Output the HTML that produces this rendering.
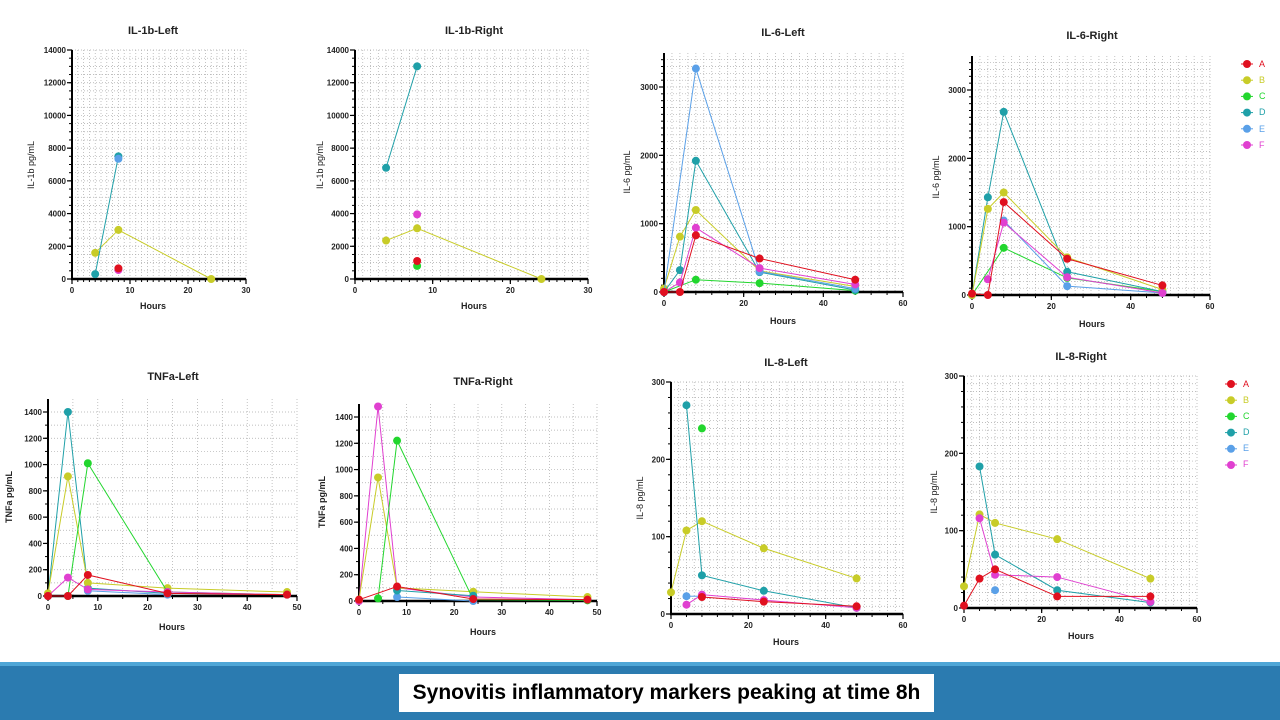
<!DOCTYPE html>
<html><head><meta charset="utf-8"><style>
body{margin:0;width:1280px;height:720px;background:#fff;overflow:hidden;position:relative;font-family:"Liberation Sans",sans-serif}
svg{position:absolute;left:0;top:0}
.t{font:bold 11px "Liberation Sans",sans-serif;fill:#222;text-anchor:middle}
.tk{font:bold 8px "Liberation Sans",sans-serif;fill:#222}
.lg{font:9px "Liberation Sans",sans-serif}
#band{position:absolute;left:0;top:662px;width:1280px;height:58px;background:#2b7bb0;border-top:4px solid #4fa6d6;box-sizing:border-box}
#cap{position:absolute;left:399px;top:674px;width:535px;height:38px;background:#fff;font:bold 21px "Liberation Sans",sans-serif;color:#000;line-height:38px;text-align:center}
</style></head><body>
<svg id="s" width="1280" height="662" xmlns="http://www.w3.org/2000/svg">
<text class="t" x="153" y="34">IL-1b-Left</text>
<text class="t" x="474" y="34">IL-1b-Right</text>
<text class="t" x="783" y="36">IL-6-Left</text>
<text class="t" x="1092" y="39">IL-6-Right</text>
<text class="t" x="173" y="380">TNFa-Left</text>
<text class="t" x="483" y="385">TNFa-Right</text>
<text class="t" x="786" y="366">IL-8-Left</text>
<text class="t" x="1081" y="360">IL-8-Right</text>
<text class="t" style="font-size:9px" x="153" y="309">Hours</text>
<text class="t" style="font-size:9px" x="474" y="309">Hours</text>
<text class="t" style="font-size:9px" x="783" y="324">Hours</text>
<text class="t" style="font-size:9px" x="1092" y="327">Hours</text>
<text class="t" style="font-size:9px" x="172" y="630">Hours</text>
<text class="t" style="font-size:9px" x="483" y="635">Hours</text>
<text class="t" style="font-size:9px" x="786" y="645">Hours</text>
<text class="t" style="font-size:9px" x="1081" y="639">Hours</text>
<text class="t" style="font-size:9px;font-weight:normal" transform="translate(34,165) rotate(-90)">IL-1b pg/mL</text>
<text class="t" style="font-size:9px;font-weight:normal" transform="translate(323,165) rotate(-90)">IL-1b pg/mL</text>
<text class="t" style="font-size:9px;font-weight:normal" transform="translate(630,172) rotate(-90)">IL-6 pg/mL</text>
<text class="t" style="font-size:9px;font-weight:normal" transform="translate(939,177) rotate(-90)">IL-6 pg/mL</text>
<text class="t" style="font-size:9px" transform="translate(12,497) rotate(-90)">TNFa pg/mL</text>
<text class="t" style="font-size:9px" transform="translate(325,502) rotate(-90)">TNFa pg/mL</text>
<text class="t" style="font-size:9px;font-weight:normal" transform="translate(643,498) rotate(-90)">IL-8 pg/mL</text>
<text class="t" style="font-size:9px;font-weight:normal" transform="translate(937,492) rotate(-90)">IL-8 pg/mL</text>
<g id="g"></g>
<g class="lg">
<text x="1259" y="67" fill="#e0101f">A</text><text x="1259" y="83" fill="#c8cc28">B</text><text x="1259" y="99" fill="#22d62e">C</text><text x="1259" y="115" fill="#1fa0a8">D</text><text x="1259" y="132" fill="#5aa0e8">E</text><text x="1259" y="148" fill="#e040d0">F</text>
<text x="1243" y="387" fill="#e0101f">A</text><text x="1243" y="403" fill="#c8cc28">B</text><text x="1243" y="419" fill="#22d62e">C</text><text x="1243" y="435" fill="#1fa0a8">D</text><text x="1243" y="451" fill="#5aa0e8">E</text><text x="1243" y="467" fill="#e040d0">F</text>
</g>
</svg>
<div id="band"></div>
<div id="cap">Synovitis inflammatory markers peaking at time 8h</div>
<script>
var C={A:"#e0101f",B:"#c8cc28",C:"#22d62e",D:"#1fa0a8",E:"#5aa0e8",F:"#e040d0"};
var P=[
{x0:72,x1:246,xm:30,y0:279,y1:50,ym:14000,top:50,xt:10,yt:2000,xg:1,yg:500,d:{B:[[4,1600],[8,3000],[24,0]],D:[[4,300],[8,7500]],E:[[8,7350]],F:[[8,550]],A:[[8,650]]}},
{x0:355,x1:588,xm:30,y0:279,y1:50,ym:14000,top:50,xt:10,yt:2000,xg:1,yg:500,d:{B:[[4,2350],[8,3100],[24,0]],D:[[4,6800],[8,13000]],F:[[8,3950]],C:[[8,800]],A:[[8,1100]]}},
{x0:664,x1:903,xm:60,y0:292,y1:87,ym:3000,top:53,xt:20,yt:1000,xg:2,yg:100,d:{C:[[0,0],[8,180],[24,130],[48,20]],B:[[0,50],[4,810],[8,1200],[24,310],[48,80]],D:[[0,0],[4,320],[8,1920],[24,290],[48,30]],E:[[0,0],[8,3270],[24,300],[48,50]],F:[[0,0],[4,140],[8,940],[24,350],[48,110]],A:[[0,0],[4,0],[8,830],[24,490],[48,180]]}},
{x0:972,x1:1210,xm:60,y0:295,y1:90,ym:3000,top:56,xt:20,yt:1000,xg:2,yg:100,d:{C:[[0,0],[8,690],[24,250],[48,50]],D:[[0,0],[4,1430],[8,2680],[24,340],[48,50]],B:[[0,0],[4,1260],[8,1500],[24,550],[48,80]],E:[[8,1090],[24,130],[48,30]],F:[[4,230],[8,1060],[24,260],[48,30]],A:[[0,20],[4,0],[8,1360],[24,530],[48,140]]}},
{x0:48,x1:297,xm:50,y0:596,y1:412,ym:1400,top:399,xt:10,yt:200,xg:5,yg:100,d:{D:[[0,0],[4,1400],[8,60],[24,20],[48,10]],B:[[0,20],[4,910],[8,100],[24,60],[48,30]],C:[[0,0],[4,0],[8,1010],[24,30],[48,10]],E:[[8,40],[24,10]],F:[[0,0],[4,140],[8,50],[24,30],[48,10]],A:[[0,0],[4,0],[8,160],[24,20],[48,10]]}},
{x0:359,x1:597,xm:50,y0:601,y1:417,ym:1400,top:404,xt:10,yt:200,xg:5,yg:100,d:{F:[[0,0],[4,1480],[8,100],[24,30],[48,10]],B:[[0,10],[4,940],[8,100],[24,70],[48,30]],C:[[4,20],[8,1220],[24,10],[48,5]],E:[[8,30],[24,0]],D:[[8,80],[24,40]],A:[[0,10],[8,110],[24,15],[48,10]]}},
{x0:671,x1:903,xm:60,y0:614,y1:382,ym:300,top:382,xt:20,yt:100,xg:2,yg:10,d:{B:[[0,28],[4,108],[8,120],[24,85],[48,46]],D:[[4,270],[8,50],[24,30],[48,8]],C:[[8,240]],E:[[4,23],[8,23]],F:[[4,12],[8,25],[24,18],[48,8]],A:[[8,22],[24,16],[48,10]]}},
{x0:964,x1:1197,xm:60,y0:608,y1:376,ym:300,top:376,xt:20,yt:100,xg:2,yg:10,d:{B:[[0,28],[4,121],[8,110],[24,89],[48,38]],D:[[4,183],[8,69],[24,23],[48,7]],E:[[8,23]],F:[[4,116],[8,43],[24,40],[48,8]],A:[[0,3],[4,38],[8,50],[24,15],[48,15]]}}
];
var h="";
P.forEach(function(p){
 var sx=function(v){return p.x0+(p.x1-p.x0)*v/p.xm}, sy=function(v){return p.y0-(p.y0-p.y1)*v/p.ym};
 var ymax=(p.y0-p.top)/(p.y0-p.y1)*p.ym;
 for(var v=p.xg;v<=p.xm+1e-9;v+=p.xg){var x=sx(v);h+='<line x1="'+x+'" y1="'+p.top+'" x2="'+x+'" y2="'+p.y0+'" stroke="#aaa" stroke-width="0.7" stroke-dasharray="1,2"/>';}
 for(var v=p.yg;v<=ymax+1e-9;v+=p.yg){var y=sy(v);h+='<line x1="'+p.x0+'" y1="'+y+'" x2="'+p.x1+'" y2="'+y+'" stroke="#aaa" stroke-width="0.7" stroke-dasharray="1,2"/>';}
 h+='<line x1="'+p.x0+'" y1="'+p.top+'" x2="'+p.x0+'" y2="'+(p.y0+1)+'" stroke="#000" stroke-width="2"/>';
 h+='<line x1="'+(p.x0-1)+'" y1="'+p.y0+'" x2="'+p.x1+'" y2="'+p.y0+'" stroke="#000" stroke-width="2.5"/>';
 for(var v=0;v<=p.xm+1e-9;v+=p.xt/ (p.xm==50?2:(p.xm==60?5:10))){var x=sx(v);h+='<line x1="'+x+'" y1="'+p.y0+'" x2="'+x+'" y2="'+(p.y0+3)+'" stroke="#000"/>';}
 for(var v=0;v<=p.xm+1e-9;v+=p.xt){var x=sx(v);h+='<line x1="'+x+'" y1="'+p.y0+'" x2="'+x+'" y2="'+(p.y0+5)+'" stroke="#000" stroke-width="1.2"/><text class="tk" x="'+x+'" y="'+(p.y0+14)+'" text-anchor="middle">'+v+'</text>';}
 for(var v=0;v<=ymax+1e-9;v+=p.yg*(p.yg==10?2:1)){var y=sy(v);h+='<line x1="'+(p.x0-3)+'" y1="'+y+'" x2="'+p.x0+'" y2="'+y+'" stroke="#000"/>';}
 for(var v=0;v<=ymax+1e-9;v+=p.yt){var y=sy(v);h+='<line x1="'+(p.x0-5)+'" y1="'+y+'" x2="'+p.x0+'" y2="'+y+'" stroke="#000" stroke-width="1.2"/><text class="tk" x="'+(p.x0-6)+'" y="'+(y+3)+'" text-anchor="end">'+v+'</text>';}
 for(var k in p.d){var pts=p.d[k];
  if(pts.length>1)h+='<polyline fill="none" stroke="'+C[k]+'" stroke-width="1" points="'+pts.map(function(q){return sx(q[0])+','+sy(q[1])}).join(' ')+'"/>';
  pts.forEach(function(q){h+='<circle cx="'+sx(q[0])+'" cy="'+sy(q[1])+'" r="4" fill="'+C[k]+'"/>';});}
});
var ks="ABCDEF";
[[1247,64],[1231,384]].forEach(function(L){for(var i=0;i<6;i++){var y=L[1]+i*16.2;h+='<line x1="'+(L[0]-6)+'" y1="'+y+'" x2="'+(L[0]+6)+'" y2="'+y+'" stroke="'+C[ks[i]]+'"/><circle cx="'+L[0]+'" cy="'+y+'" r="4" fill="'+C[ks[i]]+'"/>';}});
document.getElementById("g").innerHTML=h;
</script>
</body></html>
